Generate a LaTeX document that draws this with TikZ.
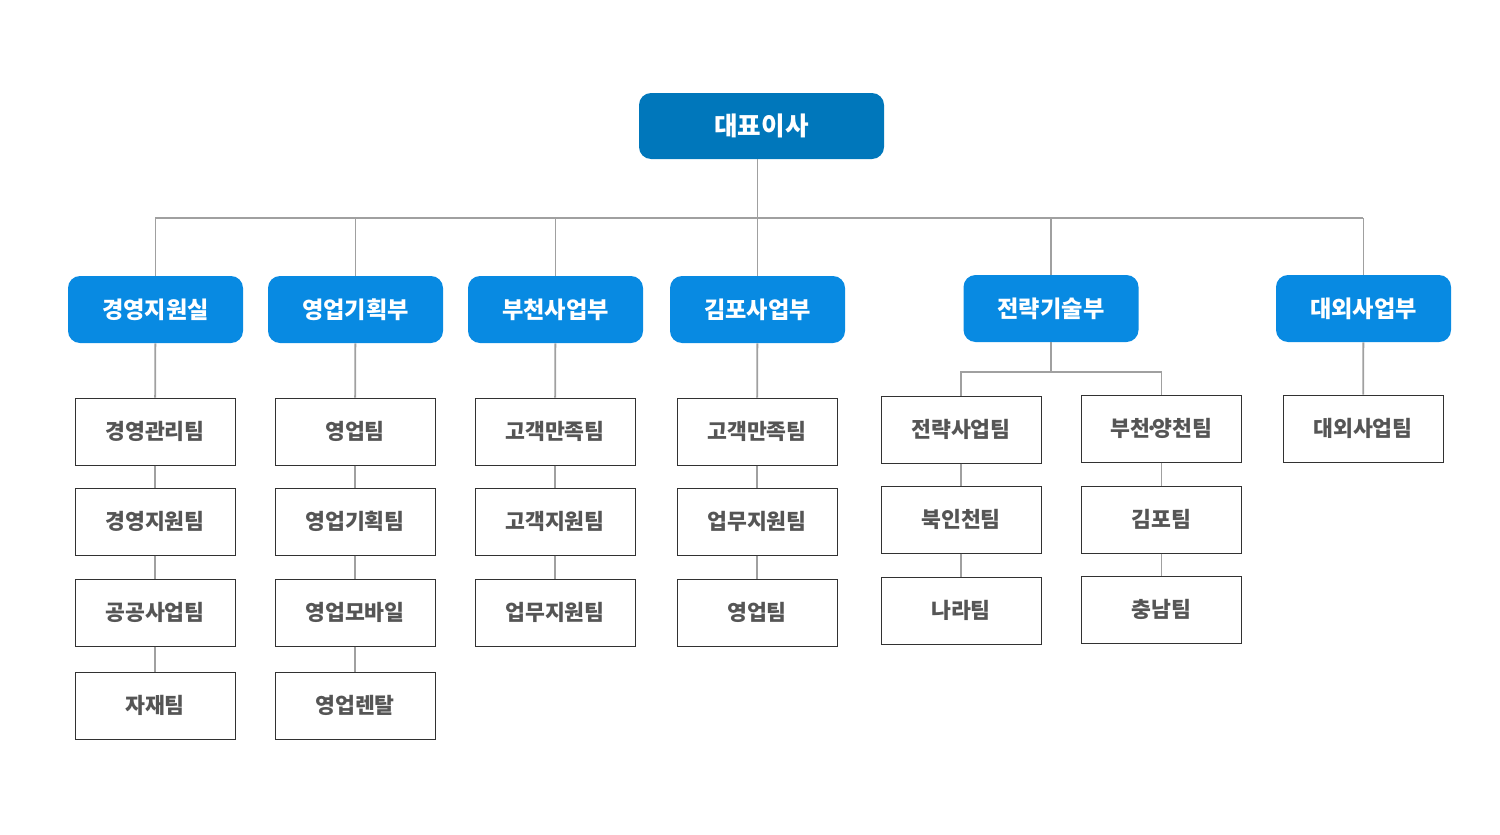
\documentclass[tikz,border=0pt]{standalone}
\usepackage{fontspec}
\setmainfont{Noto Sans CJK KR}
\definecolor{topblue}{RGB}{0,119,187}
\definecolor{deptblue}{RGB}{8,138,226}
\definecolor{linegray}{RGB}{160,160,160}
\definecolor{boxgray}{RGB}{50,50,50}
\definecolor{textgray}{RGB}{85,85,85}
\tikzset{
  topbox/.style={fill=topblue, rounded corners=6pt, minimum width=122.5pt, minimum height=33pt, text=white, font=\bfseries\fontsize{12.8}{14}\selectfont, inner sep=0pt},
  deptbox/.style={fill=deptblue, rounded corners=6pt, minimum width=87.5pt, minimum height=33.5pt, text=white, font=\bfseries\fontsize{11.6}{13}\selectfont, inner sep=0pt},
  teambox/.style={draw=boxgray, line width=0.5pt, fill=white, minimum width=80pt, minimum height=33.5pt, text=textgray, font=\bfseries\fontsize{10.8}{12}\selectfont, inner sep=0pt},
  conn/.style={draw=linegray, line width=0.9pt}
}
\begin{document}
\begin{tikzpicture}[x=0.5pt,y=-0.5pt]
\useasboundingbox (0,0) rectangle (1500,835);
% top
\node[topbox] (top) at (761.5,126) {대표이사};
% departments
\node[deptbox] (d1) at (155.5,309.5) {경영지원실};
\node[deptbox] (d2) at (355.5,309.5) {영업기획부};
\node[deptbox] (d3) at (555.5,309.5) {부천사업부};
\node[deptbox] (d4) at (757.5,309.5) {김포사업부};
\node[deptbox] (d5) at (1051,308.5) {전략기술부};
\node[deptbox] (d6) at (1363.5,308.5) {대외사업부};
% bus
\coordinate (busL) at (155,218);
\coordinate (busR) at (1363,218);
\draw[conn] (busL) -- (busR);
\draw[conn] (top.south -| d4.north) -- (d4.north);
\foreach \d in {d1,d2,d3,d5,d6} {\draw[conn] (\d.north) -- (\d.north |- busL);}
% column 1
\node[teambox] (a1) at (155,431.5) {경영관리팀};
\node[teambox] (a2) at (155,521.5) {경영지원팀};
\node[teambox] (a3) at (155,612.5) {공공사업팀};
\node[teambox] (a4) at (155,705.5) {자재팀};
% column 2
\node[teambox] (b1) at (355,431.5) {영업팀};
\node[teambox] (b2) at (355,521.5) {영업기획팀};
\node[teambox] (b3) at (355,612.5) {영업모바일};
\node[teambox] (b4) at (355,705.5) {영업렌탈};
% column 3
\node[teambox] (c1) at (555,431.5) {고객만족팀};
\node[teambox] (c2) at (555,521.5) {고객지원팀};
\node[teambox] (c3) at (555,612.5) {업무지원팀};
% column 4
\node[teambox] (e1) at (757,431.5) {고객만족팀};
\node[teambox] (e2) at (757,521.5) {업무지원팀};
\node[teambox] (e3) at (757,612.5) {영업팀};
% column 5
\node[teambox] (f1) at (961,429.5) {전략사업팀};
\node[teambox] (f2) at (961,519.5) {북인천팀};
\node[teambox] (f3) at (961,610.5) {나라팀};
% column 6
\node[teambox] (g1) at (1161.5,428.5) {부천\kern-0.26em·\kern-0.26em양천팀};
\node[teambox] (g2) at (1161.5,519.5) {김포팀};
\node[teambox] (g3) at (1161.5,609.5) {충남팀};
% column 7
\node[teambox] (h1) at (1363,428.5) {대외사업팀};
% dept to first team
\draw[conn] (d1) -- (a1);
\draw[conn] (d2) -- (b1);
\draw[conn] (d3) -- (c1);
\draw[conn] (d4) -- (e1);
\draw[conn] (d6) -- (h1);
\coordinate (sub) at (1051,372);
\draw[conn] (d5.south) -- (sub);
\draw[conn] (f1.north) |- (sub) -| (g1.north);
% chains
\draw[conn] (a1) -- (a2); \draw[conn] (a2) -- (a3); \draw[conn] (a3) -- (a4);
\draw[conn] (b1) -- (b2); \draw[conn] (b2) -- (b3); \draw[conn] (b3) -- (b4);
\draw[conn] (c1) -- (c2); \draw[conn] (c2) -- (c3);
\draw[conn] (e1) -- (e2); \draw[conn] (e2) -- (e3);
\draw[conn] (f1) -- (f2); \draw[conn] (f2) -- (f3);
\draw[conn] (g1) -- (g2); \draw[conn] (g2) -- (g3);
\end{tikzpicture}
\end{document}
